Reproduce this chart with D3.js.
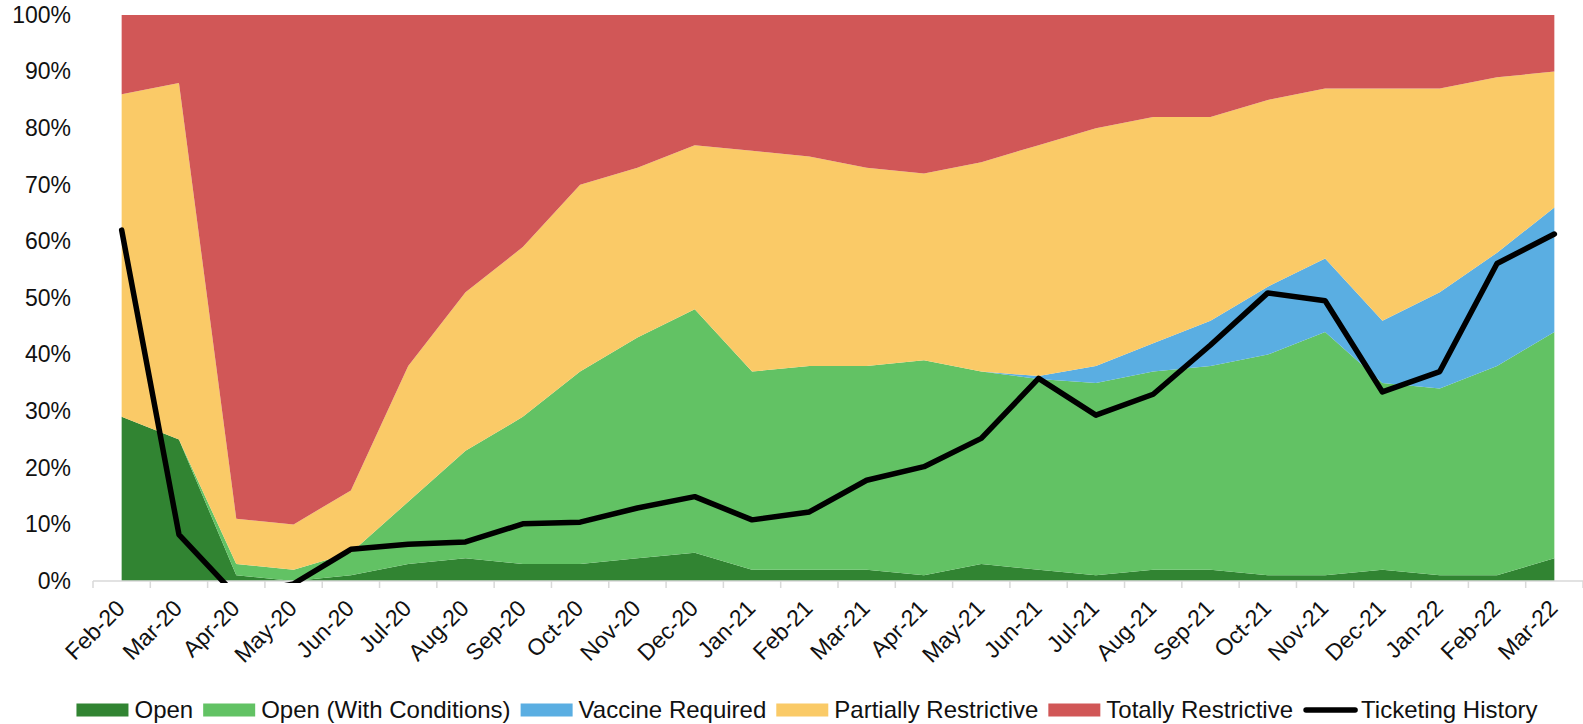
<!DOCTYPE html>
<html>
<head>
<meta charset="utf-8">
<script src="https://cdn.jsdelivr.net/npm/d3@7"></script>
<style>
    body { margin: 0; background: #fff; }
    text { font-family: Arial, "Liberation Sans", sans-serif; fill: #111; }
</style>
</head>
<body>
<div id="vis-container"></div>
<script>

    ////////////////////////////////////
    /////////////// Data ///////////////
    ////////////////////////////////////

    const months = ['Feb-20', 'Mar-20', 'Apr-20', 'May-20', 'Jun-20', 'Jul-20', 'Aug-20', 'Sep-20', 'Oct-20',
        'Nov-20', 'Dec-20', 'Jan-21', 'Feb-21', 'Mar-21', 'Apr-21', 'May-21', 'Jun-21', 'Jul-21', 'Aug-21',
        'Sep-21', 'Oct-21', 'Nov-21', 'Dec-21', 'Jan-22', 'Feb-22', 'Mar-22']

    const open = [29, 25, 1, 0, 1, 3, 4, 3, 3, 4, 5, 2, 2, 2, 1, 3, 2, 1, 2, 2, 1, 1, 2, 1, 1, 4]
    const openWithConditions = [0, 0, 2, 2, 4, 11, 19, 26, 34, 39, 43, 35, 36, 36, 38, 34, 33.7, 34, 35, 36, 39, 43, 33, 33, 37, 40]
    const vaccineRequired = [0, 0, 0, 0, 0, 0, 0, 0, 0, 0, 0, 0, 0, 0, 0, 0, 0.5, 3, 5, 8, 12, 13, 11, 17, 20, 22]
    const partiallyRestrictive = [57, 63, 8, 8, 11, 24, 28, 30, 33, 30, 29, 39, 37, 35, 33, 37, 40.8, 42, 40, 36, 33, 30, 41, 36, 31, 24]
    const totallyRestrictive = [14, 12, 89, 90, 84, 62, 49, 41, 30, 27, 23, 24, 25, 27, 28, 26, 23, 20, 18, 18, 15, 13, 13, 13, 11, 10]

    // ticketing history, share of normal (%)
    const ticketing = [62, 8.2, -2.6, -0.5, 5.6, 6.5, 6.9, 10.1, 10.4, 12.9, 14.9, 10.8, 12.2, 17.8, 20.2, 25.2,
        35.8, 29.3, 33, 41.7, 50.9, 49.5, 33.4, 37, 56.1, 61.3]

    const yTicks = [0, 10, 20, 30, 40, 50, 60, 70, 80, 90, 100]

    const keys = ['Open', 'Open (With Conditions)', 'Vaccine Required', 'Partially Restrictive', 'Totally Restrictive']
    const colors = ['#318432', '#62c264', '#5aaee2', '#faca67', '#d15757']

    const data = months.map((m, i) => ({
        month: m,
        'Open': open[i],
        'Open (With Conditions)': openWithConditions[i],
        'Vaccine Required': vaccineRequired[i],
        'Partially Restrictive': partiallyRestrictive[i],
        'Totally Restrictive': totallyRestrictive[i],
        ticketing: ticketing[i]
    }))

    ////////////////////////////////////
    ///////////// SVG Setup ////////////
    ////////////////////////////////////

    const svgWidth = 1583
    const svgHeight = 724

    const margin = { left: 93, right: 0, top: 15, bottom: 143 }

    const width = svgWidth - margin.left - margin.right
    const height = svgHeight - margin.top - margin.bottom

    const root = d3.select('#vis-container')
        .append('svg')
        .attr('width', svgWidth)
        .attr('height', svgHeight)

    const svg = root.append('g')
        .attr('transform', `translate(${margin.left},${margin.top})`)

    ////////////////////////////////////
    /////////////// Scales /////////////
    ////////////////////////////////////

    const xBand = d3.scaleBand()
        .domain(months)
        .range([0, width])

    const x = d => xBand(d) + xBand.bandwidth() / 2

    const yScale = d3.scaleLinear()
        .domain([0, 100])
        .range([height, 0])

    const colorScale = d3.scaleOrdinal()
        .domain(keys)
        .range(colors)

    ////////////////////////////////////
    ///////////// Areas ////////////////
    ////////////////////////////////////

    const series = d3.stack().keys(keys)(data)

    const area = d3.area()
        .x(d => x(d.data.month))
        .y0(d => yScale(d[0]))
        .y1(d => yScale(d[1]))

    svg.selectAll('.layer')
        .data(series)
        .join('path')
        .attr('class', 'layer')
        .attr('fill', d => colorScale(d.key))
        .attr('d', area)

    ////////////////////////////////////
    ////////////// Axis ////////////////
    ////////////////////////////////////

    // y labels only, no axis line
    const yAxis = d3.axisLeft(yScale)
        .tickValues(yTicks)
        .tickFormat(d => d + '%')
        .tickSize(0)
        .tickPadding(22)

    const yG = svg.append('g').call(yAxis)
    yG.select('.domain').remove()
    yG.selectAll('text')
        .style('font-size', '23px')
        .attr('font-family', null)

    // x axis line with ticks at band boundaries
    const xG = svg.append('g')
        .attr('transform', `translate(0,${height})`)

    xG.append('line')
        .attr('x1', 0)
        .attr('x2', width)
        .attr('stroke', '#d9d9d9')
        .attr('stroke-width', 1.5)

    xG.selectAll('.tick-mark')
        .data(months.concat(['end']))
        .join('line')
        .attr('class', 'tick-mark')
        .attr('x1', (d, i) => i * xBand.step())
        .attr('x2', (d, i) => i * xBand.step())
        .attr('y1', 0)
        .attr('y2', 7)
        .attr('stroke', '#d9d9d9')
        .attr('stroke-width', 1.5)

    xG.selectAll('.x-label')
        .data(months)
        .join('text')
        .attr('class', 'x-label')
        .attr('text-anchor', 'end')
        .attr('dy', '0.35em')
        .attr('transform', d => `translate(${x(d) - 1},23) rotate(-45)`)
        .style('font-size', '23px')
        .text(d => d)

    ////////////////////////////////////
    //////////// Ticketing /////////////
    ////////////////////////////////////

    svg.append('clipPath')
        .attr('id', 'plot-clip')
        .append('rect')
        .attr('x', 0)
        .attr('y', -5)
        .attr('width', width)
        .attr('height', height + 7)

    const line = d3.line()
        .x(d => x(d.month))
        .y(d => yScale(d.ticketing))

    svg.append('path')
        .datum(data)
        .attr('clip-path', 'url(#plot-clip)')
        .attr('fill', 'none')
        .attr('stroke', '#000')
        .attr('stroke-width', 5.5)
        .attr('stroke-linejoin', 'round')
        .attr('stroke-linecap', 'round')
        .attr('d', line)

    ////////////////////////////////////
    ///////////// Legend ///////////////
    ////////////////////////////////////

    const legendItems = keys.map((k, i) => ({ label: k, color: colors[i], type: 'rect' }))
        .concat([{ label: 'Ticketing History', color: '#000', type: 'line' }])

    const legend = root.append('g')
        .attr('transform', 'translate(0,710)')

    const swatchW = 52
    let cursor = 0

    legendItems.forEach(item => {
        const g = legend.append('g').attr('transform', `translate(${cursor},0)`)
        if (item.type === 'rect') {
            g.append('rect')
                .attr('x', 0)
                .attr('y', -6.5)
                .attr('width', swatchW)
                .attr('height', 13)
                .attr('fill', item.color)
        } else {
            g.append('line')
                .attr('x1', 3)
                .attr('x2', swatchW)
                .attr('stroke', item.color)
                .attr('stroke-width', 5.5)
                .attr('stroke-linecap', 'round')
        }
        const t = g.append('text')
            .attr('x', swatchW + 6)
            .attr('dy', '0.35em')
            .style('font-size', '24px')
            .text(item.label)
        cursor += swatchW + 6 + t.node().getComputedTextLength() + 10
    })

    const legendWidth = cursor - 10
    legend.attr('transform', `translate(${807 - legendWidth / 2},710)`)

</script>
</body>
</html>
